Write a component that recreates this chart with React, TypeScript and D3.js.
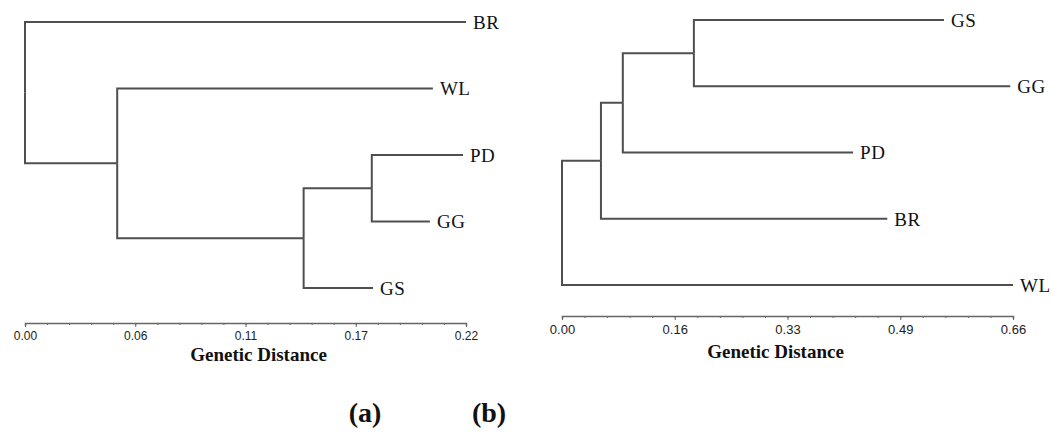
import React, { useEffect, useRef } from "react";
import * as d3 from "d3";

// tree (a): node ids, parent ids and distance from root
const idsA = ["root", "BR", "n1", "WL", "n2", "n3", "PD", "GG", "GS"];
const parentsA = ["", "root", "root", "n1", "n1", "n2", "n3", "n3", "n2"];
const distA = [0, 0.22, 0.046, 0.2035, 0.139, 0.173, 0.2185, 0.202, 0.1736];
const ticksA = ["0.00", "0.06", "0.11", "0.17", "0.22"];
const maxA = 0.22;

// tree (b)
const idsB = ["root", "n1", "n2", "n3", "GS", "GG", "PD", "BR", "WL"];
const parentsB = ["", "root", "n1", "n2", "n3", "n3", "n2", "n1", "root"];
const distB = [0, 0.057, 0.089, 0.193, 0.559, 0.656, 0.426, 0.476, 0.66];
const ticksB = ["0.00", "0.16", "0.33", "0.49", "0.66"];
const maxB = 0.66;

const axisTitle = "Genetic Distance";
const panelLabels = ["(a)", "(b)"];

const W = 1051;
const H = 434;
const LINE = "#4f4f4f";
const SERIF = "'Liberation Serif', 'Times New Roman', serif";

const App = () => {
  const ref = useRef<SVGSVGElement>(null);

  useEffect(() => {
    const svg = d3.select(ref.current);
    svg.selectAll("*").remove();

    const drawPanel = (ids, parents, dist, max, ticks, opt) => {
      const g = svg.append("g");
      const x = d3.scaleLinear().domain([0, max]).range([opt.x0, opt.x1]);

      const rows = ids.map((id, i) => ({ id, parent: parents[i], dist: dist[i] }));
      const root: any = d3.stratify<any>().id(d => d.id).parentId(d => d.parent)(rows);
      const leaves = root.leaves();
      const y = d3.scalePoint().domain(leaves.map(d => d.id)).range([opt.y0, opt.y1]);

      root.eachAfter(n => {
        n.px = x(n.data.dist);
        n.py = n.children
          ? (n.children[0].py + n.children[n.children.length - 1].py) / 2
          : y(n.id);
      });

      // elbow links
      g.selectAll("path.link")
        .data(root.descendants().filter(d => d.parent))
        .enter()
        .append("path")
        .attr("class", "link")
        .attr("d", d => `M${d.parent.px},${d.parent.py}V${d.py}H${d.px}`)
        .attr("fill", "none")
        .attr("stroke", LINE)
        .attr("stroke-width", 2);

      // leaf labels
      g.selectAll("text.leaf")
        .data(leaves)
        .enter()
        .append("text")
        .attr("class", "leaf")
        .attr("x", d => d.px + 7)
        .attr("y", d => d.py)
        .attr("dy", "0.36em")
        .attr("font-family", SERIF)
        .attr("font-size", 19)
        .attr("letter-spacing", 0.5)
        .attr("fill", "#111")
        .text(d => d.id);

      // axis: minor ticks
      const minor = d3.range(21).map(i => (max * i) / 20);
      g.append("g")
        .attr("transform", `translate(0,${opt.axisY})`)
        .call(d3.axisBottom(x).tickValues(minor).tickSize(2).tickSizeOuter(3).tickFormat(() => ""))
        .call(s => s.selectAll("line").attr("stroke", "#666"))
        .call(s => s.select(".domain").attr("stroke", "#666").attr("stroke-width", 1.5));

      // axis: major ticks + labels
      const major = d3.range(5).map(i => (max * i) / 4);
      const ax = g.append("g")
        .attr("transform", `translate(0,${opt.axisY})`)
        .call(d3.axisBottom(x).tickValues(major).tickSize(4).tickFormat((d, i) => ticks[i]));
      ax.select(".domain").remove();
      ax.selectAll("line").attr("stroke", "#666");
      ax.selectAll("text")
        .attr("y", opt.tickTextY)
        .attr("dy", 0)
        .attr("font-family", "'Liberation Sans', Arial, sans-serif")
        .attr("font-size", opt.tickFont)
        .attr("fill", "#222");

      g.append("text")
        .attr("x", (opt.x0 + opt.x1) / 2 + opt.titleDx)
        .attr("y", opt.titleY)
        .attr("text-anchor", "middle")
        .attr("font-family", SERIF)
        .attr("font-weight", "bold")
        .attr("font-size", 19)
        .attr("fill", "#111")
        .text(axisTitle);
    };

    drawPanel(idsA, parentsA, distA, maxA, ticksA, {
      x0: 25, x1: 466, y0: 22, y1: 288, axisY: 323,
      tickTextY: 17, tickFont: 12, titleY: 361, titleDx: 13,
    });
    drawPanel(idsB, parentsB, distB, maxB, ticksB, {
      x0: 562, x1: 1013, y0: 20, y1: 285, axisY: 316,
      tickTextY: 18, tickFont: 13, titleY: 358, titleDx: -12,
    });

    svg.selectAll("text.panel")
      .data(panelLabels)
      .enter()
      .append("text")
      .attr("class", "panel")
      .attr("x", (d, i) => [365, 489][i])
      .attr("y", 422)
      .attr("text-anchor", "middle")
      .attr("font-family", SERIF)
      .attr("font-weight", "bold")
      .attr("font-size", 28)
      .attr("fill", "#111")
      .text(d => d);
  }, []);

  return (
    <svg
      ref={ref}
      width={W}
      height={H}
      style={{ position: "absolute", left: 0, top: 0, background: "#fff" }}
    />
  );
};

export default App;
